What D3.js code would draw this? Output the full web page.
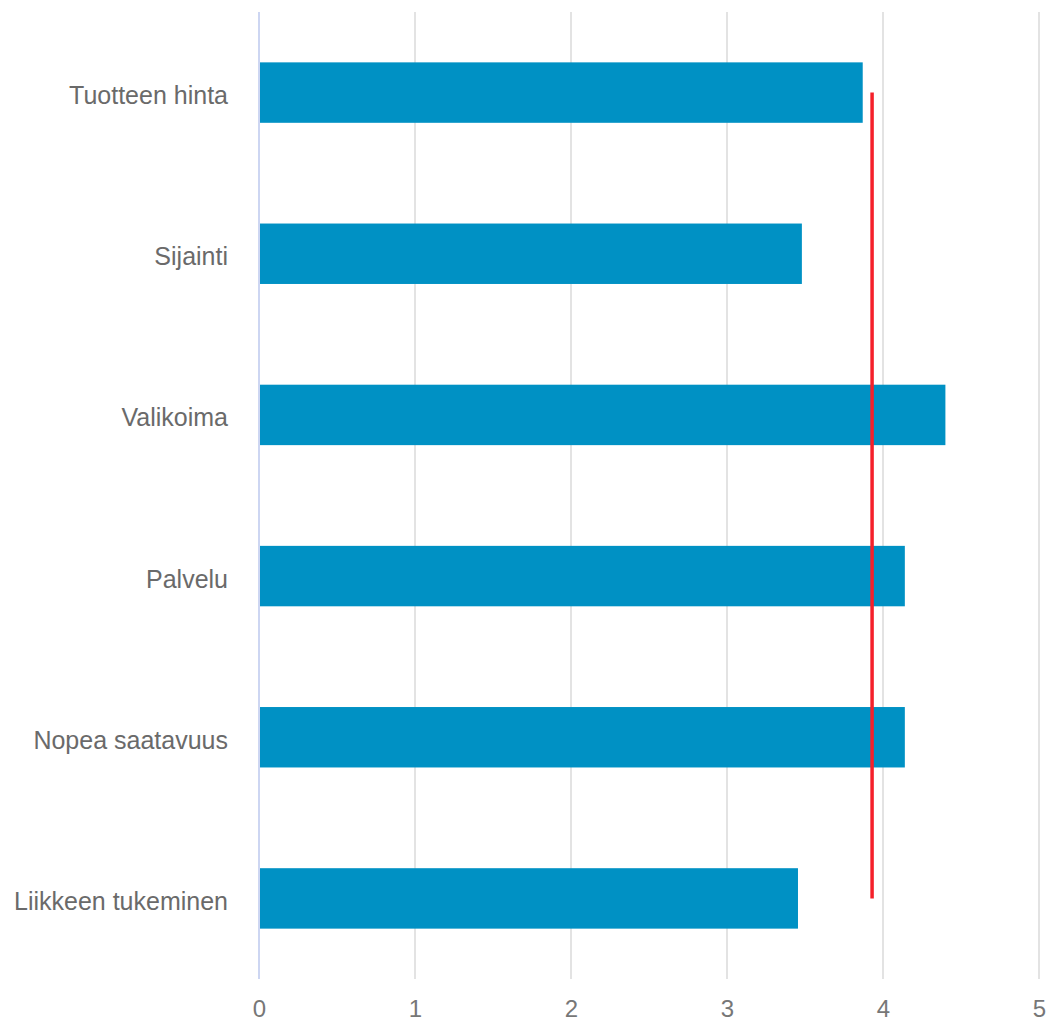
<!DOCTYPE html>
<html><head><meta charset="utf-8">
<script src="https://cdn.jsdelivr.net/npm/d3@7"></script>
<style>body{margin:0;background:#fff;} svg{display:block;}</style>
</head><body>
<svg id="chart" width="1052" height="1023"></svg>
<script>
const categories = ["Tuotteen hinta","Sijainti","Valikoima","Palvelu","Nopea saatavuus","Liikkeen tukeminen"];
const values = [3.87, 3.48, 4.40, 4.14, 4.14, 3.455];
const averageValue = [3.93];
const tickValues = [0,1,2,3,4,5];

(function(){
const svg = d3.select("#chart");
const mLeft = 259, mRight = 1039, mTop = 12, mBottom = 979;
const x = d3.scaleLinear().domain([0,5]).range([mLeft,mRight]);
const y = d3.scaleBand().domain(categories).range([mTop,mBottom]).paddingInner(0.625).paddingOuter(0.3125);

// grid
svg.append("g").selectAll("line").data(tickValues).join("line")
  .attr("x1", d=>x(d)).attr("x2", d=>x(d)).attr("y1", mTop).attr("y2", mBottom)
  .attr("stroke", d=> d===0 ? "#cdd6f2" : "#e3e3e3").attr("stroke-width", 2);

// x axis labels
const xa = svg.append("g").attr("transform", `translate(0,${mBottom})`)
  .call(d3.axisBottom(x).tickValues(tickValues).tickSize(0).tickPadding(21).tickFormat(d3.format("d")));
xa.select(".domain").remove();
xa.selectAll("text").attr("font-family","Liberation Sans, Arial, sans-serif").attr("font-size",24).attr("fill","#777");

// bars
svg.append("g").selectAll("rect").data(values).join("rect")
  .attr("x", x(0)+1).attr("y", (d,i)=>y(categories[i]))
  .attr("width", d=>x(d)-x(0)-1).attr("height", y.bandwidth())
  .attr("fill", "#0091c4");

// y labels
const ya = svg.append("g").attr("transform", `translate(${mLeft},0)`)
  .call(d3.axisLeft(y).tickSize(0).tickPadding(31));
ya.select(".domain").remove();
ya.selectAll("text").attr("font-family","Liberation Sans, Arial, sans-serif").attr("font-size",25).attr("fill","#6a6a6a").attr("dy","0.46em");

// average line
svg.append("g").selectAll("line").data(averageValue).join("line")
  .attr("x1", d=>x(d)).attr("x2", d=>x(d))
  .attr("y1", y(categories[0]) + y.bandwidth()/2)
  .attr("y2", y(categories[categories.length-1]) + y.bandwidth()/2)
  .attr("stroke", "#f5202a").attr("stroke-width", 3.5);
})();
</script>
</body></html>
